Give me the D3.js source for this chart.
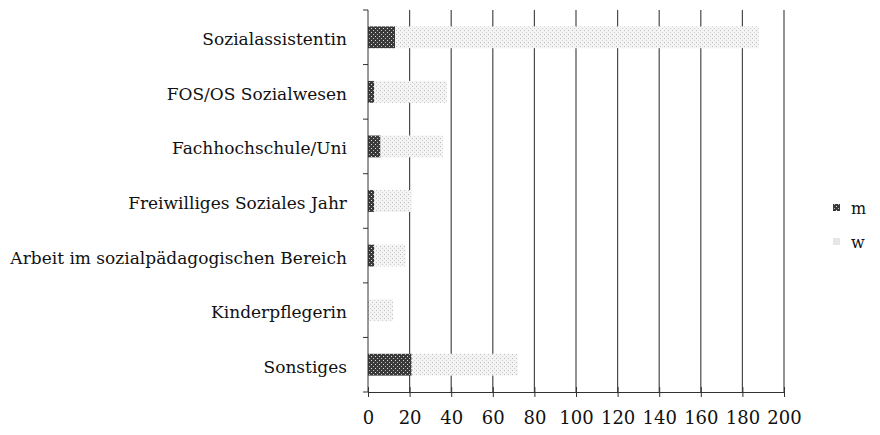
<!DOCTYPE html>
<html>
<head>
<meta charset="utf-8">
<script src="https://cdn.jsdelivr.net/npm/d3@7"></script>
<style>
  body { margin: 0; background: #fff; }
  svg { display: block; }
</style>
</head>
<body>
<svg id="vis" width="880" height="435"></svg>
<script>
const categories = [
  "Sozialassistentin",
  "FOS/OS Sozialwesen",
  "Fachhochschule/Uni",
  "Freiwilliges Soziales Jahr",
  "Arbeit im sozialpädagogischen Bereich",
  "Kinderpflegerin",
  "Sonstiges"
];
const mValues = [13, 3, 6, 3, 3, 0, 21];
const wValues = [175, 35, 30, 18, 15, 12, 51];
const xTicks = [0, 20, 40, 60, 80, 100, 120, 140, 160, 180, 200];
const seriesNames = ["m", "w"];

const svg = d3.select("#vis");
const margin = { top: 10, right: 96, bottom: 43, left: 368 };
const width = 880 - margin.left - margin.right;
const height = 435 - margin.top - margin.bottom;

const serif = "'DejaVu Serif', serif";

// fill patterns, the source looks like a scanned print
const defs = svg.append("defs");
const pm = defs.append("pattern")
  .attr("id", "patM").attr("patternUnits", "userSpaceOnUse")
  .attr("width", 4).attr("height", 4);
pm.append("rect").attr("width", 4).attr("height", 4).attr("fill", "#3a3a3a");
pm.append("rect").attr("x", 1).attr("y", 0).attr("width", 1).attr("height", 1).attr("fill", "#bbb");
pm.append("rect").attr("x", 3).attr("y", 2).attr("width", 1).attr("height", 1).attr("fill", "#ddd");

const pw = defs.append("pattern")
  .attr("id", "patW").attr("patternUnits", "userSpaceOnUse")
  .attr("width", 4).attr("height", 4);
pw.append("rect").attr("width", 4).attr("height", 4).attr("fill", "#f4f4f4");
pw.append("rect").attr("x", 0).attr("y", 0).attr("width", 1).attr("height", 1).attr("fill", "#bdbdbd");
pw.append("rect").attr("x", 2).attr("y", 2).attr("width", 1).attr("height", 1).attr("fill", "#cfcfcf");

const g = svg.append("g")
  .attr("transform", `translate(${margin.left}, ${margin.top})`);

const x = d3.scaleLinear().domain([0, 200]).range([0, width]);
const y = d3.scaleBand().domain(categories).range([0, height])
  .paddingInner(0.6).paddingOuter(0.3);

// vertical grid lines
g.append("g")
  .selectAll("line")
  .data(xTicks.slice(1))
  .join("line")
  .attr("x1", d => x(d)).attr("x2", d => x(d))
  .attr("y1", 0).attr("y2", height)
  .attr("stroke", "#4a4a4a")
  .attr("stroke-width", 1.2);

const rows = categories.map((c, i) => ({ cat: c, m: mValues[i], w: wValues[i] }));

g.append("g").selectAll("rect")
  .data(rows)
  .join("rect")
  .attr("x", x(0))
  .attr("y", d => y(d.cat))
  .attr("width", d => x(d.m) - x(0))
  .attr("height", y.bandwidth())
  .attr("fill", "url(#patM)");

g.append("g").selectAll("rect")
  .data(rows)
  .join("rect")
  .attr("x", d => x(d.m))
  .attr("y", d => y(d.cat))
  .attr("width", d => x(d.m + d.w) - x(d.m))
  .attr("height", y.bandwidth())
  .attr("fill", "url(#patW)");

// x axis
const xAxis = g.append("g")
  .attr("transform", `translate(0, ${height})`)
  .call(d3.axisBottom(x).tickValues(xTicks).tickSize(5).tickPadding(14));
xAxis.select(".domain").attr("stroke", "#333");
xAxis.selectAll(".tick line").attr("stroke", "#333").attr("y1", -5);
xAxis.selectAll("text")
  .attr("font-family", serif).attr("font-size", 18).attr("fill", "#111");

// y axis, ticks at the category boundaries
const yAxis = g.append("g");
yAxis.append("line")
  .attr("x1", 0).attr("x2", 0).attr("y1", 0).attr("y2", height)
  .attr("stroke", "#333");
yAxis.selectAll(".bt")
  .data(d3.range(categories.length + 1))
  .join("line")
  .attr("class", "bt")
  .attr("x1", -5).attr("x2", 0)
  .attr("y1", i => i * y.step()).attr("y2", i => i * y.step())
  .attr("stroke", "#333");
yAxis.selectAll("text")
  .data(categories)
  .join("text")
  .attr("x", -21)
  .attr("y", d => y(d) + y.bandwidth() / 2 + 2)
  .attr("dy", "0.35em")
  .attr("text-anchor", "end")
  .attr("font-family", serif)
  .attr("font-size", 17)
  .attr("fill", "#111")
  .text(d => d);

// legend
const legend = svg.append("g").attr("transform", "translate(833, 204)");
const li = legend.selectAll("g")
  .data(seriesNames)
  .join("g")
  .attr("transform", (d, i) => `translate(0, ${i * 34})`);
li.append("rect")
  .attr("width", 7).attr("height", 7)
  .attr("fill", (d, i) => i === 0 ? "url(#patM)" : "#e6e6e6");
li.append("text")
  .attr("x", 18).attr("y", 4)
  .attr("dy", "0.35em")
  .attr("font-family", serif)
  .attr("font-size", 16)
  .attr("fill", "#111")
  .text(d => d);
</script>
</body>
</html>
